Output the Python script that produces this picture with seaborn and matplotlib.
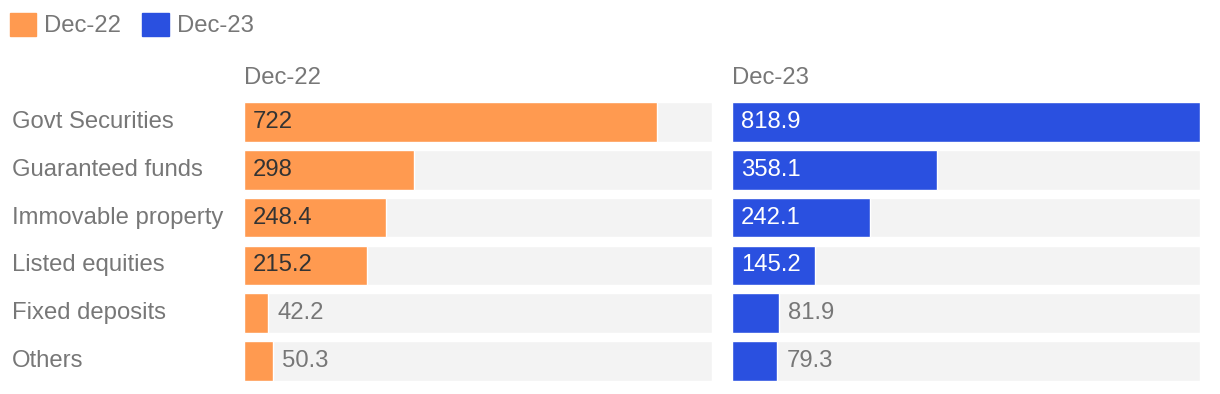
import pandas as pd
import seaborn as sns
import matplotlib.pyplot as plt
from matplotlib.patches import Patch
from matplotlib.transforms import blended_transform_factory

categories = ['Govt Securities', 'Guaranteed funds', 'Immovable property',
              'Listed equities', 'Fixed deposits', 'Others']
dec22 = [722, 298, 248.4, 215.2, 42.2, 50.3]
dec23 = [818.9, 358.1, 242.1, 145.2, 81.9, 79.3]
series = ['Dec-22', 'Dec-23']

orange = '#FF9A50'
blue = '#2A50E0'
grey_bg = '#F3F3F3'
grey_txt = '#777777'
fs = 17.2

sns.set_theme(style='white')
plt.rcParams['font.family'] = ['Liberation Sans', 'DejaVu Sans']

top = max(dec22 + dec23)
df = pd.DataFrame({'cat': categories, 'Dec-22': dec22, 'Dec-23': dec23})
df['bg'] = top

fig = plt.figure(figsize=(12.2, 3.94), dpi=100)
ax1 = fig.add_axes([244 / 1220, 1 - 381 / 394, 468 / 1220, 279 / 394])
ax2 = fig.add_axes([732 / 1220, 1 - 381 / 394, 468 / 1220, 279 / 394])

for ax, col, colour, txtcol in [(ax1, 'Dec-22', orange, '#333333'),
                                (ax2, 'Dec-23', blue, 'white')]:
    sns.barplot(data=df, y='cat', x='bg', color=grey_bg, width=0.83,
                orient='h', ax=ax, saturation=1)
    sns.barplot(data=df, y='cat', x=col, color=colour, width=0.83,
                orient='h', ax=ax, saturation=1)
    ax.set_xlim(0, top)
    ax.set_ylim(5.415, -0.415)
    ax.set_xlabel('')
    ax.set_ylabel('')
    ax.set_xticks([])
    ax.set_yticks([])
    for s in ax.spines.values():
        s.set_visible(False)
    ax.text(0, -0.92, col, fontsize=fs, color=grey_txt, va='center', ha='left')
    pad = top * 9 / 468
    for i, v in enumerate(df[col]):
        if v > 100:
            ax.text(pad, i, f'{v:g}', fontsize=fs, color=txtcol, va='center', ha='left')
        else:
            ax.text(v + pad, i, f'{v:g}', fontsize=fs, color=grey_txt, va='center', ha='left')

# category names at the far left of the figure
tr = blended_transform_factory(fig.transFigure, ax1.transData)
for i, c in enumerate(categories):
    ax1.text(12 / 1220, i, c, fontsize=fs, color=grey_txt,
             va='center', ha='left', transform=tr)

handles = [Patch(color=orange), Patch(color=blue)]
fig.legend(handles, series, loc='upper left', bbox_to_anchor=(0.0, 1 - 3 / 394),
           ncol=2, frameon=False, fontsize=fs, handlelength=1.12, handleheight=1.12,
           handletextpad=0.33, columnspacing=0.87, labelcolor=grey_txt,
           borderaxespad=0.0, borderpad=0.4)

fig.savefig('out.png', dpi=100)
